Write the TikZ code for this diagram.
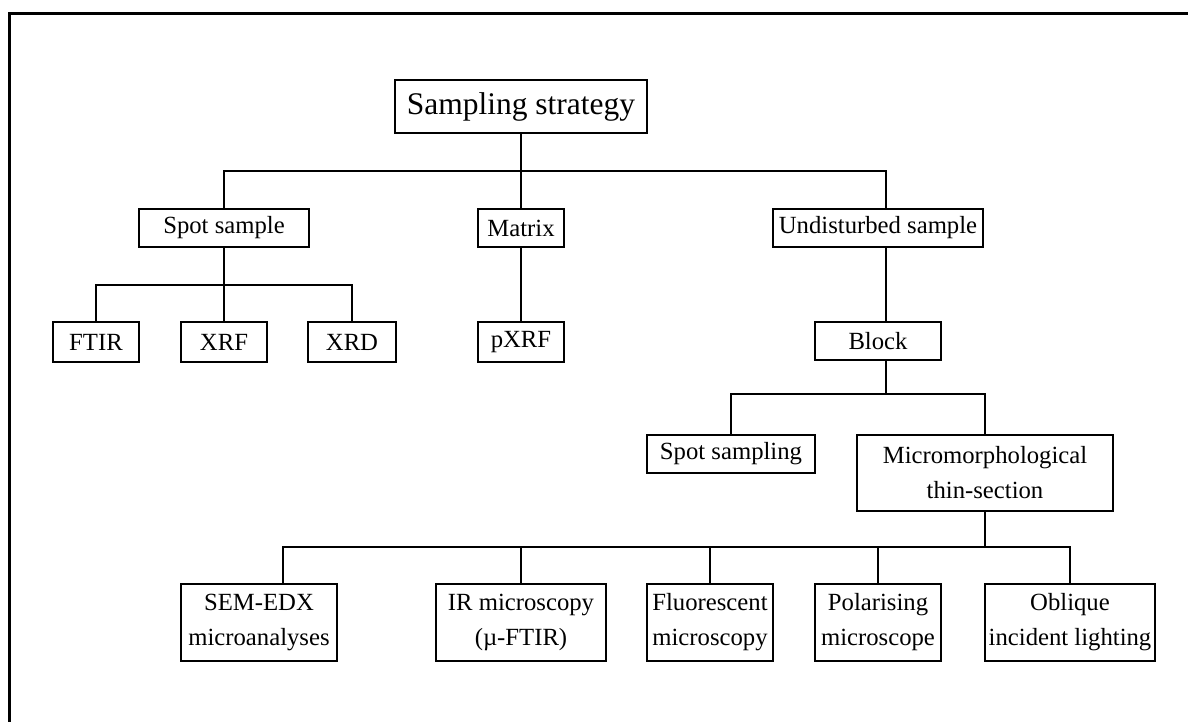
\documentclass[tikz,border=0pt]{standalone}
\usepackage{fontspec}
\setmainfont{Liberation Serif}
\begin{document}
\begin{tikzpicture}[x=1pt,y=-1pt,
  box/.style={draw, line width=2.7pt, inner sep=0pt, align=center,
    font=\fontsize{24.7}{35}\selectfont},
  conn/.style={line width=1.5pt}]
\useasboundingbox (0,0) rectangle (1188,722);
\clip (0,0) rectangle (1188,722);
% outer frame
\draw[line width=2.7pt] (9.5,740) -- (9.5,13.3) -- (1200,13.3);

% root
\node[box, minimum width=252pt, minimum height=53pt,
  font=\fontsize{31.5}{38}\selectfont] (strat) at (521,106.5) {Sampling strategy};

% first level
\node[box, minimum width=170pt, minimum height=38pt] (spot) at (224,228) {Spot sample};
\node[box, minimum width=86pt, minimum height=38pt] (matrix) at (521,228) {Matrix};
\node[box, minimum width=210pt, minimum height=38pt] (undist) at (878,228) {Undisturbed sample};

% spot sample analyses
\node[box, minimum width=86pt, minimum height=40pt] (ftir) at (96,342) {FTIR};
\node[box, minimum width=86pt, minimum height=40pt] (xrf) at (224,342) {XRF};
\node[box, minimum width=88pt, minimum height=40pt] (xrd) at (352,342) {XRD};
\node[box, minimum width=86pt, minimum height=40pt] (pxrf) at (521,342) {pXRF};

% undisturbed branch
\node[box, minimum width=126pt, minimum height=38pt] (block) at (878,341) {Block};
\node[box, minimum width=168pt, minimum height=38pt] (spotsamp) at (731,454) {Spot sampling};
\node[box, minimum width=256pt, minimum height=76pt] (micro) at (985,473) {Micromorphological\\thin-section};

% thin-section techniques
\node[box, minimum width=156pt, minimum height=77pt] (sem) at (259,622.5) {SEM-EDX\\microanalyses};
\node[box, minimum width=170pt, minimum height=77pt] (ir) at (521,622.5) {IR microscopy\\(µ-FTIR)};
\node[box, minimum width=126pt, minimum height=77pt] (fluor) at (710,622.5) {Fluorescent\\microscopy};
\node[box, minimum width=126pt, minimum height=77pt] (polar) at (878,622.5) {Polarising\\microscope};
\node[box, minimum width=170pt, minimum height=77pt] (obl) at (1070,622.5) {Oblique\\incident lighting};

% bus levels
\coordinate (bus1) at (0,171);
\coordinate (bus2) at (0,285);
\coordinate (bus3) at (0,394);
\coordinate (bus4) at (0,547);
\coordinate (uTop) at ([xshift=8pt]undist.north);
\coordinate (uBot) at ([xshift=8pt]undist.south);
\coordinate (bTop) at ([xshift=8pt]block.north);
\coordinate (bBot) at ([xshift=8pt]block.south);
\coordinate (semTop) at ([xshift=24pt]sem.north);

% connectors
\draw[conn] (strat.south) -- (strat.south |- bus1);
\draw[conn] (spot.north) |- (uTop |- bus1) -- (uTop);
\draw[conn] (matrix.north) -- (matrix.north |- bus1);

\draw[conn] (spot.south) -- (xrf.north);
\draw[conn] (ftir.north) |- (xrd.north |- bus2) -- (xrd.north);
\draw[conn] (matrix.south) -- (pxrf.north);

\draw[conn] (uBot) -- (bTop);
\draw[conn] (bBot) -- (bBot |- bus3);
\draw[conn] (spotsamp.north) |- (micro.north |- bus3) -- (micro.north);

\draw[conn] (micro.south) -- (micro.south |- bus4);
\draw[conn] (semTop) |- (obl.north |- bus4) -- (obl.north);
\draw[conn] (ir.north) -- (ir.north |- bus4);
\draw[conn] (fluor.north) -- (fluor.north |- bus4);
\draw[conn] (polar.north) -- (polar.north |- bus4);
\end{tikzpicture}
\end{document}
